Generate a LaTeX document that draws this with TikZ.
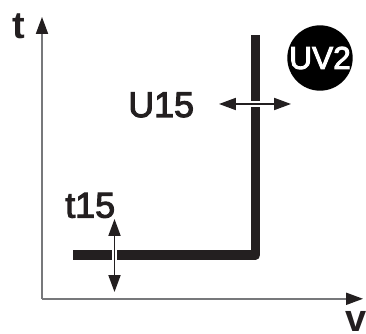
\documentclass[tikz,border=0pt]{standalone}
\usepackage{fontspec}
\setmainfont{Liberation Sans}
\newfontfamily\mediumfont[FakeBold=3]{Liberation Sans}
\usetikzlibrary{arrows.meta}
\definecolor{curve}{HTML}{231F20}
\definecolor{axisgray}{HTML}{77787B}

\begin{document}
\begin{tikzpicture}[
    axisline/.style={-{Triangle[length=4.2mm, width=3mm, color=curve]}, line width=1.1pt, axisgray},
    limitcurve/.style={line width=6.8pt, curve, line join=round},
    halo/.style={line width=3.8pt, white},
    rangearrow/.style={{Triangle[length=4.2mm, width=3mm]}-{Triangle[length=4.2mm, width=3mm]}, line width=1.1pt, curve},
    axislabel/.style={font=\fontsize{27}{27}\selectfont\bfseries, text=curve, inner sep=0pt, anchor=base west},
    limitlabel/.style={font=\fontsize{25.5}{26}\mediumfont, text=curve, inner sep=0pt, anchor=base west},
    badge/.style={circle, fill=black, text=white, inner sep=0pt, minimum size=1.55cm, font=\fontsize{22.5}{23}\mediumfont},
  ]
  \useasboundingbox (0, 0) rectangle (9.15, 8.35);

  % Axes
  \coordinate (origin) at (1.05, 0.88);
  \coordinate (tend) at (1.05, 7.925);
  \coordinate (vend) at (9.075, 0.88);
  \draw[axisline] (origin) -- (tend);
  \draw[axisline] (origin) -- (vend);
  \node[axislabel] (tlabel) at (0.3, 7.375) {t};
  \node[axislabel] (vlabel) at (8.62, 0.06) {v};

  % Limit curve
  \coordinate (curvestart) at (1.825, 1.975);
  \coordinate (curvecorner) at (6.39, 1.975);
  \coordinate (curveend) at (6.39, 7.475);
  \draw[limitcurve] (curvestart) -- (curvecorner) -- (curveend);

  % Voltage setting
  \coordinate (uleft) at (5.475, 5.75);
  \coordinate (uright) at (7.275, 5.75);
  \draw[halo, shorten <=0.6cm, shorten >=0.6cm] (uleft) -- (uright);
  \draw[rangearrow] (uleft) -- (uright);
  \node[limitlabel] (ulabel) at (3.2, 5.425) {U15};

  % Time setting
  \coordinate (ttop) at (2.8625, 2.875);
  \coordinate (tbottom) at (2.8625, 1.05);
  \draw[halo, shorten <=0.6cm, shorten >=0.6cm] (ttop) -- (tbottom);
  \draw[rangearrow] (ttop) -- (tbottom);
  \node[limitlabel] (tsetlabel) at (1.625, 2.91) {t15};

  \node[badge] (uvbadge) at (8, 6.9) {UV2};
\end{tikzpicture}
\end{document}
